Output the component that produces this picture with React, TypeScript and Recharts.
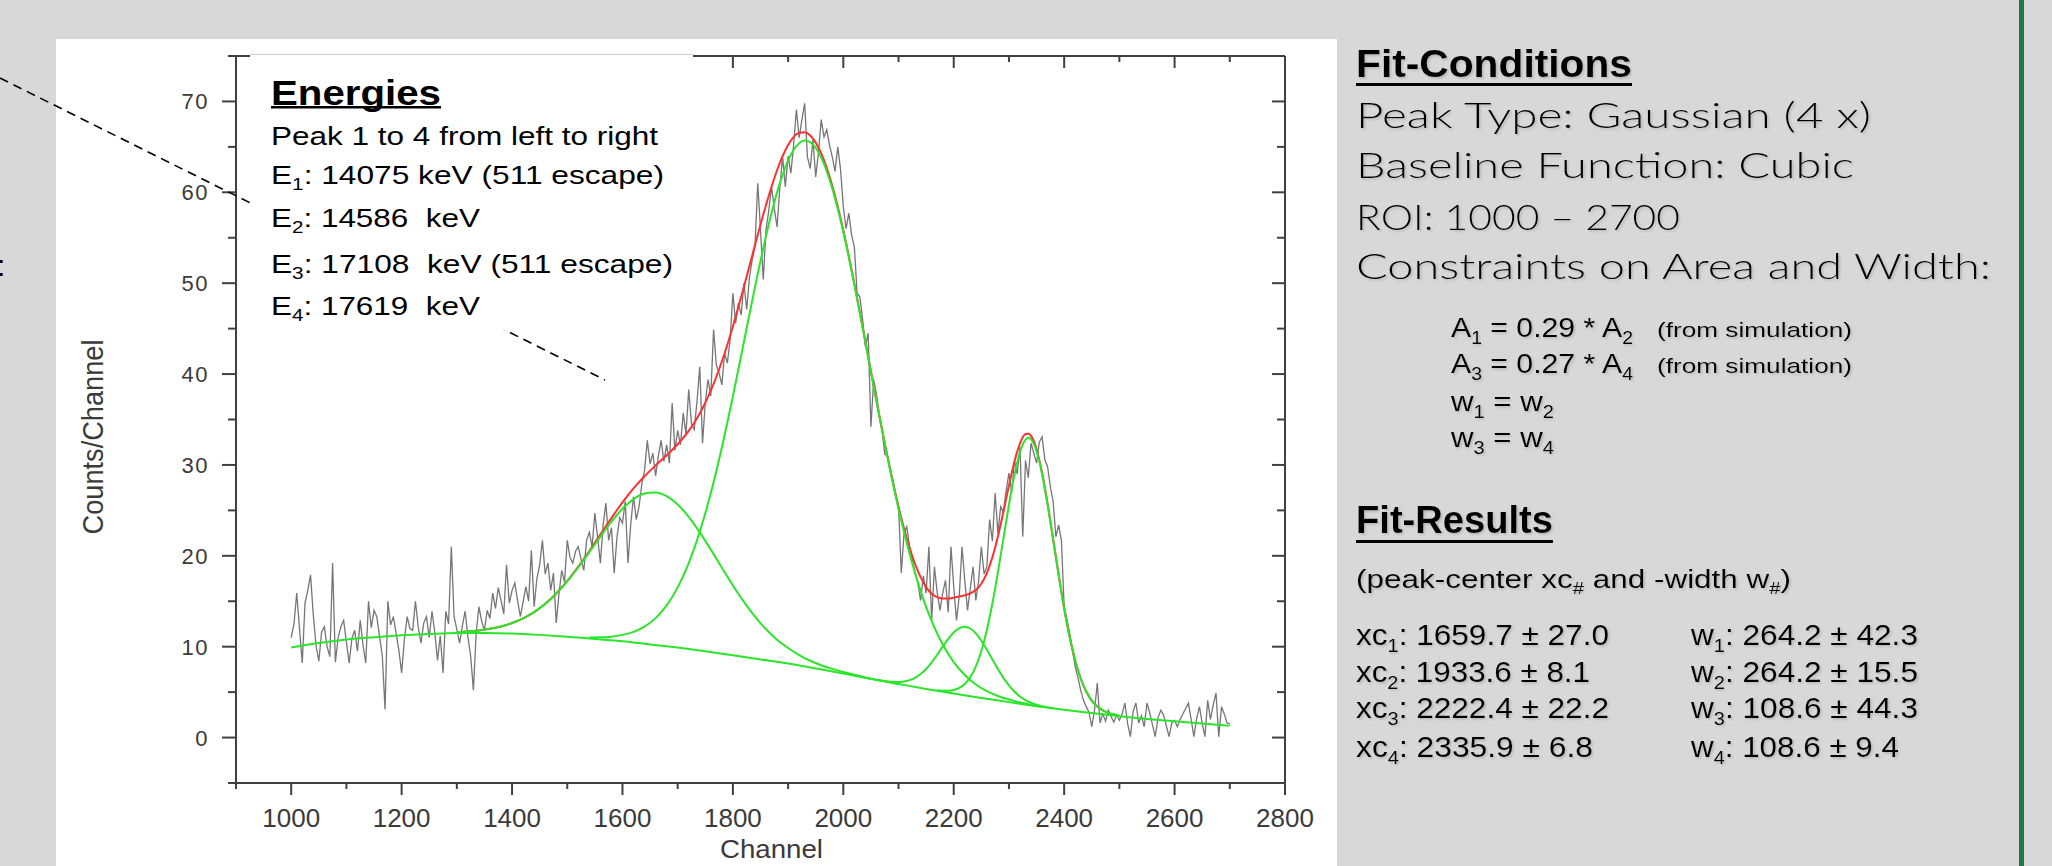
import React from 'react';
import { LineChart, Line, XAxis, YAxis } from 'recharts';

// ---------- data ----------
const grayStart = 1000;
const grayStep = 5;
const grayCounts = [
  11.0,12.5,15.9,12.0,8.2,14.8,16.2,17.9,13.5,10.1,8.4,11.6,12.2,10.0,8.9,19.2,8.3,11.0,12.2,12.9,
  10.5,8.2,10.9,11.8,9.5,12.9,10.2,8.2,15.0,12.1,14.0,13.3,11.1,9.0,3.1,15.0,12.4,13.3,11.5,9.6,
  7.1,10.8,13.3,12.0,11.8,15.0,12.2,10.4,12.6,13.3,11.0,13.9,11.6,8.5,11.2,7.1,13.9,12.5,21.0,13.3,
  11.9,10.4,12.3,13.9,11.1,9.0,5.2,11.5,14.4,12.8,11.8,14.0,13.1,15.9,14.2,16.5,15.1,13.6,19.0,14.8,
  16.2,17.0,15.1,13.3,14.9,16.6,15.0,20.6,14.4,17.5,19.0,21.7,18.0,19.2,16.2,18.1,12.6,15.8,18.4,17.1,
  21.7,19.8,19.2,20.5,21.0,19.6,18.4,21.7,22.6,21.0,24.7,22.0,19.2,23.4,25.8,21.7,23.1,18.1,22.0,24.2,
  23.6,26.0,19.2,23.5,26.5,24.0,25.4,27.9,29.4,32.7,30.1,31.3,28.8,31.0,32.7,30.4,32.2,30.2,36.8,31.6,
  33.8,32.2,35.7,33.4,38.3,34.5,33.9,37.0,40.8,32.4,36.9,39.4,37.6,44.9,41.0,40.1,38.8,42.3,41.2,43.8,
  48.9,45.6,47.8,46.5,50.0,47.1,50.6,52.6,54.0,61.0,55.9,50.4,55.9,58.0,60.6,58.2,56.2,60.5,63.9,60.6,
  64.0,62.1,65.2,69.1,66.0,68.0,69.8,63.9,62.6,65.8,61.7,64.4,68.0,66.1,66.9,65.2,63.9,62.3,65.0,62.5,
  58.4,56.0,57.7,55.3,54.0,48.9,48.5,46.0,43.0,44.5,34.2,39.4,37.8,35.4,34.0,31.2,31.0,29.5,28.2,26.6,
  25.5,18.1,22.5,23.2,21.0,19.5,18.1,17.0,15.1,17.8,15.9,21.0,12.9,18.8,16.0,14.0,15.9,17.3,13.8,21.0,
  16.6,12.9,15.6,21.0,17.3,14.0,16.4,18.8,15.1,17.2,21.0,18.0,18.8,24.0,21.6,26.9,22.5,25.4,24.8,27.2,
  29.1,27.0,30.5,29.0,32.0,22.1,30.5,28.6,32.4,31.3,30.2,32.5,33.1,30.6,29.8,27.6,26.0,22.1,23.4,21.7,
  14.4,13.0,11.5,9.6,7.8,6.6,5.2,4.1,3.4,2.8,1.2,3.0,6.0,1.6,2.6,1.8,3.0,2.3,1.7,2.5,
  1.9,2.6,3.8,1.5,0.1,2.9,3.8,1.6,2.4,1.2,3.8,2.7,1.4,0.1,2.2,3.0,2.5,1.3,0.1,1.6,
  1.9,1.2,2.0,2.6,3.2,3.8,2.0,0.1,2.1,3.4,1.6,0.1,4.1,2.0,3.6,4.9,0.1,3.4,2.6,1.6,1.5,
];

const baseX = [1000,1050,1100,1150,1200,1250,1300,1350,1400,1450,1500,1550,1600,1650,1700,1750,1800,1850,1900,1950,2000,2050,2100,2150,2200,2250,2300,2350,2400,2450,2500,2550,2600,2650,2700];
const baseY = [9.9,10.4,10.8,11.05,11.25,11.4,11.5,11.5,11.45,11.3,11.1,10.85,10.6,10.25,9.9,9.5,9.05,8.6,8.15,7.6,7.05,6.45,5.9,5.35,4.85,4.35,3.9,3.45,3.05,2.7,2.35,2.05,1.8,1.55,1.3];

const peak1X = [1300,1320,1340,1360,1380,1400,1420,1440,1460,1480,1500,1520,1540,1560,1580,1600,1620,1640,1660,1680,1700,1720,1740,1760,1780,1800,1820,1840,1860,1880,1900,1920,1940,1960,1980,2000,2020,2040,2060,2080,2100];
const peak1Y = [11.60,11.67,11.79,11.97,12.22,12.60,13.11,13.80,14.71,15.84,17.20,18.74,20.41,22.12,23.75,25.18,26.24,26.86,26.98,26.57,25.65,24.28,22.58,20.68,18.69,16.74,14.93,13.31,11.92,10.77,9.85,9.07,8.45,7.96,7.56,7.22,6.91,6.62,6.37,6.14,5.90];

const peak2X = [1540,1560,1580,1600,1620,1640,1660,1680,1700,1720,1740,1760,1780,1800,1820,1840,1860,1880,1900,1920,1930,1940,1960,1980,2000,2020,2040,2060,2080,2100,2120,2140,2160,2180,2200,2220,2240,2260,2280,2300,2320,2340,2360];
const peak2Y = [11.02,11.03,11.10,11.30,11.63,12.21,13.14,14.54,16.53,19.20,22.65,26.90,31.92,37.55,43.55,49.57,55.20,59.99,63.51,65.41,65.69,65.52,63.81,60.42,55.65,49.85,43.50,37.04,30.84,25.18,20.25,16.12,12.81,10.24,8.31,6.88,5.84,5.10,4.57,4.18,3.87,3.62,3.41];

const peak3X = [2060,2070,2080,2090,2100,2110,2120,2130,2140,2150,2160,2170,2180,2190,2200,2210,2220,2230,2240,2250,2260,2270,2280,2290,2300,2310,2320,2330,2340,2350,2360,2380];
const peak3Y = [6.36,6.26,6.18,6.13,6.12,6.18,6.32,6.58,6.99,7.55,8.27,9.11,10.00,10.85,11.56,12.03,12.19,12.00,11.47,10.66,9.67,8.60,7.54,6.57,5.73,5.05,4.52,4.13,3.83,3.61,3.46,3.23];

const peak4X = [2170,2180,2190,2200,2210,2220,2230,2240,2250,2260,2270,2280,2290,2300,2310,2320,2330,2336,2340,2350,2360,2370,2380,2390,2400,2410,2420,2430,2440,2450,2460,2470,2480,2490,2500];
const peak4Y = [5.20,5.15,5.15,5.23,5.46,5.90,6.65,7.83,9.53,11.84,14.75,18.17,21.90,25.61,28.92,31.42,32.79,32.98,32.82,31.51,29.01,25.65,21.81,17.90,14.23,11.06,8.48,6.50,5.07,4.07,3.41,2.99,2.71,2.53,2.40];

const fitX = [1300,1320,1340,1360,1380,1400,1420,1440,1460,1480,1500,1520,1540,1560,1580,1600,1620,1640,1660,1680,1700,1720,1740,1760,1780,1800,1820,1840,1860,1880,1900,1920,1930,1940,1960,1980,2000,2020,2040,2060,2070,2080,2090,2100,2110,2120,2130,2140,2150,2160,2170,2180,2190,2200,2210,2220,2230,2240,2250,2260,2270,2280,2290,2300,2310,2320,2330,2336,2340,2350,2360,2370,2380,2390,2400,2410,2420,2430,2440,2450,2460,2470,2480,2490,2500];
const fitY = [11.60,11.67,11.79,11.97,12.22,12.60,13.11,13.80,14.72,15.86,17.23,18.81,20.53,22.35,24.15,25.88,27.41,28.75,29.94,31.07,32.28,33.74,35.65,38.17,41.38,45.24,49.61,54.19,58.61,62.43,65.21,66.55,66.61,66.26,64.28,60.71,55.82,49.95,43.55,37.09,33.93,30.92,28.06,25.41,23.01,20.89,19.09,17.65,16.56,15.83,15.45,15.29,15.30,15.40,15.52,15.66,15.87,16.24,16.93,18.09,19.83,22.12,24.85,27.72,30.37,32.38,33.40,33.44,33.19,31.73,29.14,25.73,21.85,17.92,14.23,11.06,8.48,6.50,5.07,4.07,3.41,2.99,2.71,2.53,2.40];

const xTicks = [900,1000,1100,1200,1300,1400,1500,1600,1700,1800,1900,2000,2100,2200,2300,2400,2500,2600,2700,2800];
const yTicks = [-5,0,5,10,15,20,25,30,35,40,45,50,55,60,65,70,75];

// ---------- helpers ----------
const pts = (xs: number[], ys: number[]) => xs.map((x, i) => ({ x, y: ys[i] }));
const grayData = grayCounts.map((y, i) => ({ x: grayStart + i * grayStep, y }));
const baseData = pts(baseX, baseY);
const p1Data = pts(peak1X, peak1Y);
const p2Data = pts(peak2X, peak2Y);
const p3Data = pts(peak3X, peak3Y);
const p4Data = pts(peak4X, peak4Y);
const fitData = pts(fitX, fitY);

const AX = '#404040';
const LBL = '#3a3a3a';
const ARIAL = "'Liberation Sans', Arial, Helvetica, sans-serif";
const HEAD = "'Liberation Sans Narrow', 'Liberation Sans', Arial, sans-serif";
const GOTHIC = "Lato, 'DejaVu Sans', sans-serif";
const GREEN = '#2ae62a';
const RED = '#ff3030';

const BottomTick = (props: any) => {
  const { x, y, payload } = props;
  const v = payload.value;
  const major = v % 200 === 0;
  return (
    <g>
      <line x1={x} y1={y} x2={x} y2={y + (major ? 12 : 6)} stroke={AX} strokeWidth={2} />
      {major && (
        <text x={x} y={y + 44} textAnchor="middle" fontSize={26} fontFamily={ARIAL} fill={LBL}>{v}</text>
      )}
    </g>
  );
};
const TopTick = (props: any) => {
  const { x, y, payload } = props;
  const major = payload.value % 200 === 0;
  return <line x1={x} y1={y} x2={x} y2={y + (major ? 12 : 6)} stroke={AX} strokeWidth={2} />;
};
const LeftTick = (props: any) => {
  const { x, y, payload } = props;
  const v = payload.value;
  const major = v % 10 === 0;
  return (
    <g>
      <line x1={x - (major ? 14 : 8)} y1={y} x2={x} y2={y} stroke={AX} strokeWidth={2} />
      {major && (
        <text x={x - 27} y={y + 8} textAnchor="end" fontSize={22} letterSpacing={1.5} fontFamily={ARIAL} fill={LBL}>{v}</text>
      )}
    </g>
  );
};
const RightTick = (props: any) => {
  const { x, y, payload } = props;
  const major = payload.value % 10 === 0;
  return <line x1={x - (major ? 13 : 8)} y1={y} x2={x} y2={y} stroke={AX} strokeWidth={2} />;
};

// A text line made of segments; segments starting with "_" are subscripts.
const T = (p: any) => {
  const segs: string[] = Array.isArray(p.segs) ? p.segs : [p.segs];
  const subSize = Math.round(p.size * 0.64);
  const shift = Math.round(p.size * 0.24);
  let prevSub = false;
  return (
    <text
      x={p.x}
      y={p.y}
      fontSize={p.size}
      fontFamily={p.family || ARIAL}
      fontWeight={p.weight || 'normal'}
      textLength={p.len}
      lengthAdjust="spacingAndGlyphs"
      fill={p.fill || '#000'}
      filter={p.shadow ? 'url(#sh)' : undefined}
      style={{ whiteSpace: 'pre' }}
    >
      {segs.map((s, i) => {
        const isSub = s.startsWith('_');
        const dy = isSub && !prevSub ? shift : !isSub && prevSub ? -shift : 0;
        prevSub = isSub;
        return (
          <tspan key={i} dy={dy} fontSize={isSub ? subSize : p.size}>
            {isSub ? s.slice(1) : s}
          </tspan>
        );
      })}
    </text>
  );
};

export default function App() {
  const axisLine = { stroke: AX, strokeWidth: 2 };
  return (
    <div style={{ position: 'absolute', left: 0, top: 0, width: 2052, height: 866, background: '#d8d8d8', overflow: 'hidden' }}>
      <div style={{ position: 'absolute', left: 56, top: 39, width: 1281, height: 827, background: '#ffffff' }} />
      <div style={{ position: 'absolute', left: 2019, top: 0, width: 5, height: 866, background: '#1d7a44' }} />
      <div style={{ position: 'absolute', left: 0, top: 0 }}>
        <LineChart width={1340} height={866} margin={{ top: 46, right: 45, bottom: 3, left: 176 }}>
          <XAxis xAxisId="b" type="number" dataKey="x" domain={[900, 2800]} ticks={xTicks} interval={0}
            tickSize={0} tickMargin={0} tickLine={false} tick={BottomTick} height={80} axisLine={axisLine} allowDataOverflow />
          <XAxis xAxisId="t" orientation="top" type="number" dataKey="x" domain={[900, 2800]} ticks={xTicks} interval={0}
            tickSize={0} tickMargin={0} tickLine={false} tick={TopTick} height={10} axisLine={axisLine} allowDataOverflow />
          <YAxis yAxisId="l" type="number" domain={[-5, 75]} ticks={yTicks} interval={0}
            tickSize={0} tickMargin={0} tickLine={false} tick={LeftTick} width={60} axisLine={axisLine} allowDataOverflow />
          <YAxis yAxisId="r" orientation="right" type="number" domain={[-5, 75]} ticks={yTicks} interval={0}
            tickSize={0} tickMargin={0} tickLine={false} tick={RightTick} width={10} axisLine={axisLine} allowDataOverflow />
          <Line xAxisId="b" yAxisId="l" data={grayData} dataKey="y" type="linear" stroke="#767676" strokeWidth={1.3}
            dot={false} activeDot={false} isAnimationActive={false} />
          <Line xAxisId="b" yAxisId="l" data={fitData} dataKey="y" type="monotone" stroke={RED} strokeWidth={2}
            dot={false} activeDot={false} isAnimationActive={false} />
          <Line xAxisId="b" yAxisId="l" data={baseData} dataKey="y" type="monotone" stroke={GREEN} strokeWidth={2}
            dot={false} activeDot={false} isAnimationActive={false} />
          <Line xAxisId="b" yAxisId="l" data={p1Data} dataKey="y" type="monotone" stroke={GREEN} strokeWidth={2}
            dot={false} activeDot={false} isAnimationActive={false} />
          <Line xAxisId="b" yAxisId="l" data={p2Data} dataKey="y" type="monotone" stroke={GREEN} strokeWidth={2}
            dot={false} activeDot={false} isAnimationActive={false} />
          <Line xAxisId="b" yAxisId="l" data={p3Data} dataKey="y" type="monotone" stroke={GREEN} strokeWidth={2}
            dot={false} activeDot={false} isAnimationActive={false} />
          <Line xAxisId="b" yAxisId="l" data={p4Data} dataKey="y" type="monotone" stroke={GREEN} strokeWidth={2}
            dot={false} activeDot={false} isAnimationActive={false} />
        </LineChart>
      </div>
      <svg style={{ position: 'absolute', left: 0, top: 0 }} width={2052} height={866}>
        <defs>
          <filter id="sh" x="-5%" y="-30%" width="110%" height="160%">
            <feDropShadow dx={1.5} dy={1.5} stdDeviation={1} floodColor="#8a8a8a" floodOpacity={0.45} />
          </filter>
        </defs>
        {/* axis titles */}
        <text transform="translate(103,437) rotate(-90)" textAnchor="middle" fontSize={30} fontFamily={ARIAL}
          fill={LBL} textLength={195} lengthAdjust="spacingAndGlyphs">Counts/Channel</text>
        <T x={720} y={858} size={26} len={103} fill={LBL} segs="Channel" />
        {/* clipped colon at left edge */}
        <text x={-3} y={276} fontSize={30} fontFamily={ARIAL} fill="#000">:</text>
        {/* dashed callout line */}
        <line x1={0} y1={78} x2={605} y2={380} stroke="#000" strokeWidth={1.6} strokeDasharray="9 6" />
        {/* Energies box */}
        <rect x={250} y={54} width={443} height={276} fill="#ffffff" />
        <line x1={250} y1={54.5} x2={693} y2={54.5} stroke="#cfcfcf" strokeWidth={1} />
        <T x={271} y={105} size={35} len={170} family={HEAD} weight="bold" segs="Energies" />
        <rect x={271} y={106} width={170} height={2.5} fill="#000" />
        <T x={271} y={145} size={26} len={387} segs="Peak 1 to 4 from left to right" />
        <T x={271} y={184} size={26} len={393} segs={['E', '_1', ': 14075 keV (511 escape)']} />
        <T x={271} y={227} size={26} len={209} segs={['E', '_2', ': 14586  keV']} />
        <T x={271} y={273} size={26} len={402} segs={['E', '_3', ': 17108  keV (511 escape)']} />
        <T x={271} y={315} size={26} len={209} segs={['E', '_4', ': 17619  keV']} />

        {/* right panel */}
        <T x={1356} y={77} size={38} len={276} family={HEAD} weight="bold" shadow segs="Fit-Conditions" />
        <rect x={1356} y={83} width={276} height={3} fill="#000" />
        <T x={1356} y={128} size={36} len={515} family={GOTHIC} weight={300} shadow segs="Peak Type: Gaussian (4 x)" />
        <T x={1356} y={178} size={36} len={498} family={GOTHIC} weight={300} shadow segs="Baseline Function: Cubic" />
        <T x={1356} y={230} size={36} len={324} family={GOTHIC} weight={300} shadow segs="ROI: 1000 – 2700" />
        <T x={1356} y={279} size={36} len={635} family={GOTHIC} weight={300} shadow segs="Constraints on Area and Width:" />

        <T x={1451} y={337} size={28} len={182} shadow segs={['A', '_1', ' = 0.29 * A', '_2']} />
        <T x={1657} y={337} size={21} len={195} shadow segs="(from simulation)" />
        <T x={1451} y={373} size={28} len={182} shadow segs={['A', '_3', ' = 0.27 * A', '_4']} />
        <T x={1657} y={373} size={21} len={195} shadow segs="(from simulation)" />
        <T x={1451} y={411} size={28} len={103} shadow segs={['w', '_1', ' = w', '_2']} />
        <T x={1451} y={447} size={28} len={103} shadow segs={['w', '_3', ' = w', '_4']} />

        <T x={1356} y={533} size={38} len={197} family={HEAD} weight="bold" shadow segs="Fit-Results" />
        <rect x={1356} y={540} width={197} height={3} fill="#000" />
        <T x={1356} y={588} size={25} len={435} shadow segs={['(peak-center xc', '_#', ' and -width w', '_#', ')']} />

        <T x={1356} y={645} size={30} len={253} shadow segs={['xc', '_1', ': 1659.7 ± 27.0']} />
        <T x={1356} y={682} size={30} len={234} shadow segs={['xc', '_2', ': 1933.6 ± 8.1']} />
        <T x={1356} y={718} size={30} len={253} shadow segs={['xc', '_3', ': 2222.4 ± 22.2']} />
        <T x={1356} y={757} size={30} len={237} shadow segs={['xc', '_4', ': 2335.9 ± 6.8']} />
        <T x={1691} y={645} size={30} len={227} shadow segs={['w', '_1', ': 264.2 ± 42.3']} />
        <T x={1691} y={682} size={30} len={227} shadow segs={['w', '_2', ': 264.2 ± 15.5']} />
        <T x={1691} y={718} size={30} len={227} shadow segs={['w', '_3', ': 108.6 ± 44.3']} />
        <T x={1691} y={757} size={30} len={208} shadow segs={['w', '_4', ': 108.6 ± 9.4']} />
      </svg>
    </div>
  );
}
